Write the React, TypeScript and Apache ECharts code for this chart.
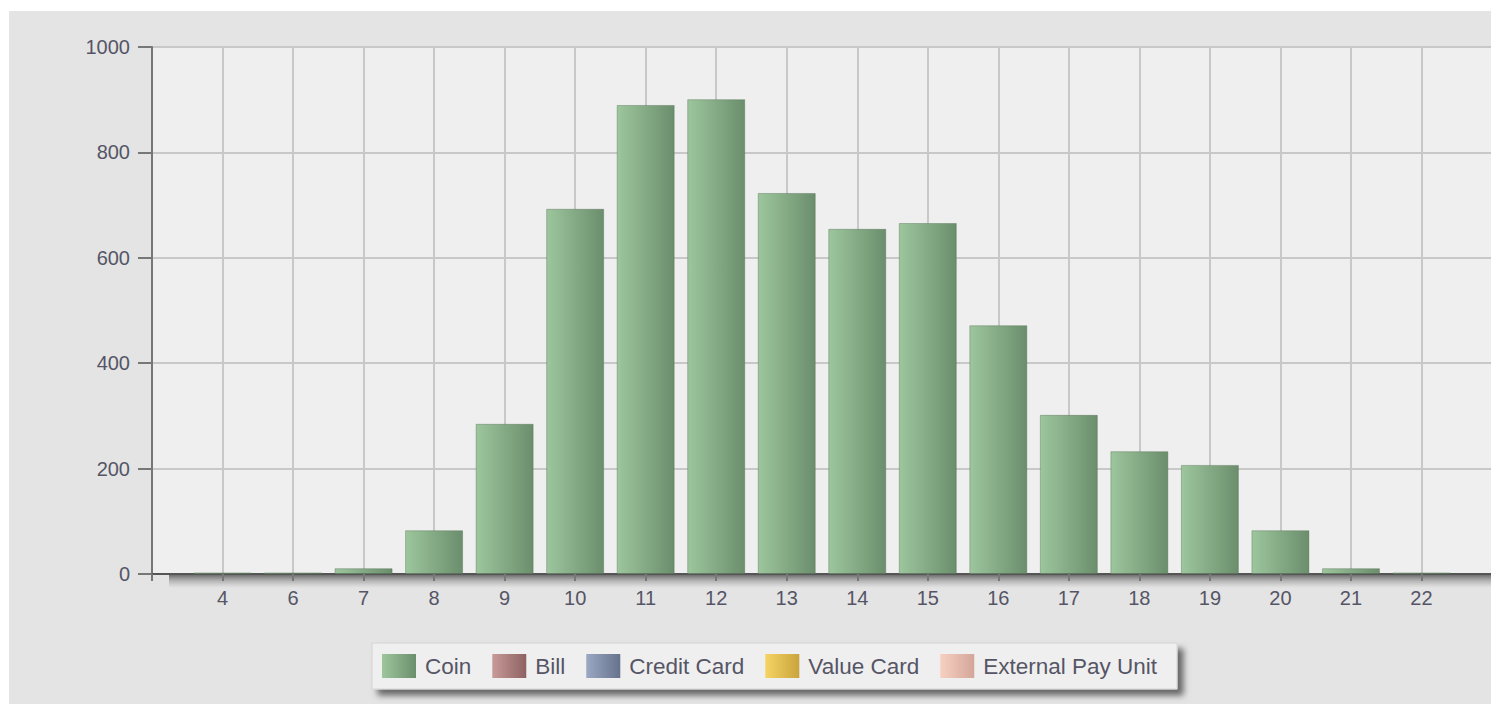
import React, { useEffect, useRef } from "react";
import * as echarts from "echarts";

const categories = ["4", "6", "7", "8", "9", "10", "11", "12", "13", "14", "15", "16", "17", "18", "19", "20", "21", "22"];
const coinValues = [3, 3, 11, 83, 285, 693, 890, 901, 723, 655, 666, 472, 302, 233, 207, 83, 11, 3];
const seriesNames = ["Coin", "Bill", "Credit Card", "Value Card", "External Pay Unit"];
const seriesColors: [string, string][] = [
  ["#9dc69d", "#6b8e6c"],
  ["#c89a9a", "#8e6262"],
  ["#9aa8c4", "#67728c"],
  ["#f6d463", "#c9a43e"],
  ["#f7d0c2", "#d4a69a"],
];
const yTicks = [0, 200, 400, 600, 800, 1000];

const FONT = "'Liberation Sans', Arial, sans-serif";
const TEXT = "#555566";

function grad(c: [string, string]) {
  return new echarts.graphic.LinearGradient(0, 0, 1, 0, [
    { offset: 0, color: c[0] },
    { offset: 1, color: c[1] },
  ]);
}

export default function App() {
  const ref = useRef<HTMLDivElement>(null);
  useEffect(() => {
    if (!ref.current) return;
    const chart = echarts.init(ref.current, null, { renderer: "svg" });
    const series: any[] = seriesNames.map((name, k) => ({
      name,
      type: "bar",
      stack: "total",
      barWidth: 58,
      data: k === 0 ? coinValues.map((v, i) => [i, v]) : [],
      itemStyle: {
        color: grad(seriesColors[k]),
        borderColor: "rgba(80,110,80,0.4)",
        borderWidth: 1,
      },
    }));
    chart.setOption({
      animation: false,
      backgroundColor: "#e4e4e4",
      textStyle: { fontFamily: FONT },
      grid: {
        left: 143,
        top: 36,
        bottom: 130,
        right: 37,
        show: true,
        backgroundColor: "#efefef",
        borderWidth: 0,
      },
      graphic: [
        {
          type: "rect",
          z: 0,
          shape: { x: 160, y: 564, width: 1400, height: 13 },
          style: {
            fill: new echarts.graphic.LinearGradient(0, 0, 0, 1, [
              { offset: 0, color: "rgba(60,60,60,0.7)" },
              { offset: 0.45, color: "rgba(90,90,90,0.35)" },
              { offset: 1, color: "rgba(130,130,130,0)" },
            ]),
          },
        },
      ],
      legend: {
        left: 363,
        top: 632,
        orient: "horizontal",
        icon: "rect",
        itemWidth: 34,
        itemHeight: 24,
        itemGap: 21,
        padding: [11, 20, 11, 10],
        backgroundColor: "#efefef",
        borderColor: "#d4d4d4",
        borderWidth: 1,
        shadowColor: "rgba(0,0,0,0.55)",
        shadowBlur: 6,
        shadowOffsetX: 6,
        shadowOffsetY: 6,
        itemStyle: { borderWidth: 0 },
        textStyle: { fontFamily: FONT, fontSize: 22.5, color: TEXT, padding: [0, 0, 0, 4] },
        data: seriesNames,
        selectedMode: false,
      },
      xAxis: {
        type: "value",
        min: -1,
        max: categories.length,
        interval: 1,
        axisLine: {
          show: true,
          onZero: true,
          lineStyle: { color: "#555", width: 2 },
        },
        axisTick: { show: true, length: 7, lineStyle: { color: "#777", width: 2 } },
        axisLabel: {
          margin: 14,
          fontSize: 20,
          color: TEXT,
          fontFamily: FONT,
          formatter: (v: number) => (categories[v] !== undefined ? categories[v] : ""),
        },
        splitLine: { show: true, lineStyle: { color: "#c8c8c8", width: 2 } },
      },
      yAxis: {
        type: "value",
        min: yTicks[0],
        max: yTicks[yTicks.length - 1],
        interval: yTicks[1] - yTicks[0],
        axisLine: { show: true, onZero: false, lineStyle: { color: "#777", width: 2 } },
        axisTick: { show: true, length: 14, lineStyle: { color: "#777", width: 2 } },
        axisLabel: {
          margin: 22,
          fontSize: 20,
          color: TEXT,
          fontFamily: FONT,
          formatter: (v: number) => String(v),
        },
        splitLine: { show: true, lineStyle: { color: "#c8c8c8", width: 2 } },
      },
      series,
    });
    return () => chart.dispose();
  }, []);
  return (
    <div
      style={{
        position: "fixed",
        left: 9,
        top: 11,
        width: 1482,
        height: 693,
        overflow: "hidden",
        background: "#e4e4e4",
      }}
    >
      <div ref={ref} style={{ width: 1520, height: 693 }} />
    </div>
  );
}
